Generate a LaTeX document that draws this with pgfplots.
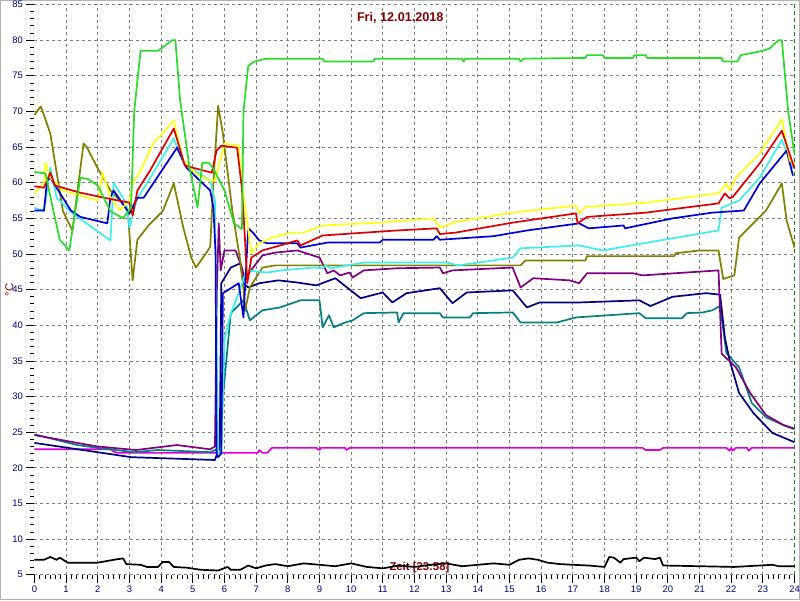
\documentclass[border=0pt]{standalone}
\usepackage{fontspec}
\setmainfont{Liberation Sans}
\usepackage{pgfplots}
\pgfplotsset{compat=1.18}

\definecolor{cgreen}{RGB}{40,220,40}
\definecolor{colive}{RGB}{128,128,0}
\definecolor{cyellow}{RGB}{255,255,20}
\definecolor{cred}{RGB}{220,0,0}
\definecolor{ccyan}{RGB}{60,238,238}
\definecolor{cblue}{RGB}{0,0,210}
\definecolor{cpurple}{RGB}{128,0,128}
\definecolor{cnavy}{RGB}{0,0,128}
\definecolor{cteal}{RGB}{0,128,128}
\definecolor{cmagenta}{RGB}{220,0,220}
\definecolor{darkred}{RGB}{128,0,0}
\definecolor{gridgray}{RGB}{128,128,128}

\begin{document}
\begin{tikzpicture}
\path[use as bounding box, draw=gray!60, line width=1bp] (0,0) rectangle (800bp,600bp);
\node[rotate=90, text=darkred, font=\fontsize{11.5}{12}\selectfont] at (9bp,310bp) {°C};
\begin{axis}[
    at={(34bp,25bp)}, anchor=south west,
    scale only axis, width=761bp, height=571bp,
    xmin=0, xmax=24, ymin=5, ymax=85,
    axis x line*=bottom, axis y line*=left,
    axis line style={draw=none},
    xtick={0,...,24}, ytick={5,10,...,85},
    minor x tick num=5, minor y tick num=4,
    tick align=outside,
    major tick length=8bp, minor tick length=4bp,
    tick style={black, line width=0.8bp},
    ymajorgrids,
    extra x ticks={1,...,23}, extra x tick labels={},
    extra x tick style={xmajorgrids=true, major tick length=0pt},
    grid style={gridgray, line width=0.8bp, dash pattern=on 3bp off 3bp},
    ticklabel style={text=cnavy, font=\fontsize{9.5}{10}\selectfont},
    /pgf/number format/assume math mode=true,
    clip=false,
    every axis plot/.append style={line width=1.7bp, mark=none, line join=round},
]
\node[anchor=west, text=darkred, font=\bfseries\fontsize{11.4}{12}\selectfont] at (axis cs:11.1,6.0) {Zeit [23:58]};
\node[text=darkred, font=\bfseries\fontsize{12.7}{14}\selectfont] at (axis cs:11.55,83.1) {Fri, 12.01.2018};
\draw[cgreen!60!black, line width=0.8bp, dash pattern=on 4bp off 3bp] (axis cs:24,5) -- (axis cs:24,85);

% magenta
\addplot[cmagenta] coordinates {(0,22.6) (2.4,22.6) (2.5,22.3) (2.6,22.1) (7.05,22.1) (7.1,22.5) (7.2,22.1) (7.35,22.1) (7.5,22.8) (8.9,22.8) (9.0,22.5) (9.05,22.8) (9.8,22.8) (9.85,22.5) (9.95,22.8) (19.2,22.8) (19.3,22.5) (19.75,22.5) (19.85,22.8) (21.85,22.8) (21.95,22.4) (22.0,22.8) (22.05,22.4) (22.15,22.8) (22.5,22.8) (22.55,22.4) (22.65,22.8) (24,22.8)};
% black
\addplot[black] coordinates {(0,7.1) (0.3,7.1) (0.5,7.5) (0.7,7.1) (0.8,7.4) (1.05,6.7) (2.0,6.7) (2.5,7.1) (2.8,7.3) (2.9,6.5) (3.35,6.4) (3.55,6.1) (3.9,6.1) (4.05,6.8) (4.25,6.8) (4.4,6.1) (4.8,6.0) (5.25,5.7) (5.8,5.6) (6.1,6.1) (6.2,5.7) (6.5,5.7) (6.75,6.3) (7.0,5.9) (7.3,6.3) (7.6,6.5) (8.0,6.2) (8.5,6.6) (9.0,6.4) (9.5,6.2) (10.0,6.6) (10.5,6.1) (11.0,5.9) (11.5,6.3) (12.0,6.1) (12.5,6.4) (13.0,6.6) (13.5,6.2) (14.0,6.4) (14.5,6.6) (15.0,6.4) (15.3,7.1) (15.6,7.3) (15.9,7.1) (16.2,6.7) (16.6,6.5) (17.0,6.4) (17.5,6.3) (18.0,6.1) (18.15,7.5) (18.3,7.4) (18.5,6.7) (18.6,7.2) (19.0,7.4) (19.1,6.9) (19.25,7.4) (19.6,7.2) (19.75,7.4) (19.85,6.3) (21.0,6.2) (22.1,6.1) (23.3,6.4) (23.5,6.2) (24,6.2)};
% teal
\addplot[cteal] coordinates {(0,24.7) (1.35,23.2) (2.0,22.8) (3.15,22.2) (3.9,22.5) (5.55,22.2) (5.7,22.5) (5.85,22.5) (5.95,30) (6.2,41.7) (6.6,43.5) (6.8,40.7) (7.2,42.1) (7.75,42.5) (8.4,43.5) (9.0,43.5) (9.1,39.7) (9.3,41.4) (9.45,39.7) (9.75,40.3) (10.05,40.7) (10.4,41.7) (11.45,41.8) (11.5,40.4) (11.65,41.7) (12.8,41.7) (12.9,41.1) (13.75,41.1) (13.85,41.7) (15.1,41.8) (15.35,40.4) (16.5,40.4) (17.1,41.1) (19.1,41.7) (19.3,41.0) (20.45,41.0) (20.6,41.7) (21.1,41.8) (21.4,42.1) (21.65,42.7) (21.85,36.1) (22.25,34.1) (22.65,29.1) (23.1,27.1) (23.65,26.0) (24,25.4)};
% navy
\addplot[cnavy] coordinates {(0,23.5) (3.05,21.5) (5.7,21.1) (5.85,23) (5.9,45.9) (6.2,48.1) (6.5,48.7) (6.6,45.9) (6.75,45.3) (7.1,45.9) (7.7,46.3) (8.3,46.0) (8.9,45.6) (9.5,46.6) (10.1,44.5) (10.3,43.8) (11.0,44.6) (11.3,43.2) (11.75,44.5) (12.8,45.2) (13.2,43.1) (13.65,44.6) (15.1,44.9) (15.55,42.5) (15.95,43.2) (17.2,43.2) (19.1,43.5) (19.45,42.7) (20.15,44.0) (21.2,44.5) (21.65,44.3) (21.8,38.3) (21.95,35.1) (22.25,30.5) (22.7,27.7) (23.3,24.9) (24,23.6)};
% purple
\addplot[cpurple] coordinates {(0,24.6) (1.35,23.5) (2.0,23.0) (3.2,22.5) (4.5,23.2) (5.55,22.6) (5.7,23.0) (5.76,45) (5.82,54.3) (5.88,47.7) (6.0,50.5) (6.35,50.5) (6.55,48.1) (6.65,46.3) (6.8,47.5) (7.2,49.8) (7.6,50.2) (8.3,50.5) (9.0,49.5) (9.25,47.3) (9.45,47.7) (9.65,47.0) (9.95,47.4) (10.05,46.7) (10.4,47.7) (11.45,48.0) (12.8,48.1) (12.9,47.3) (13.2,47.7) (15.1,48.1) (15.35,45.3) (15.75,46.6) (16.9,46.3) (17.2,45.9) (17.45,47.3) (18.9,47.3) (19.2,47.0) (21.6,47.7) (21.7,36.0) (22.15,34.1) (22.6,30.5) (23.1,27.4) (23.65,26.0) (24,25.5)};
% olive
\addplot[colive] coordinates {(0,69.5) (0.2,70.7) (0.3,69.5) (0.5,66.9) (0.9,56.0) (1.2,53.3) (1.55,65.5) (1.65,65.0) (2.0,62.0) (2.4,58.9) (2.7,57.5) (2.95,56.0) (3.1,46.3) (3.25,52.0) (3.6,54.0) (4.05,56.0) (4.4,59.9) (4.7,53.7) (4.95,49.5) (5.1,48.1) (5.4,50.0) (5.55,51.0) (5.65,60.0) (5.8,70.8) (5.95,66.9) (6.25,56.0) (6.5,49.0) (6.6,45.0) (6.65,42.0) (6.8,45.3) (7.2,48.1) (7.6,48.4) (15.35,48.4) (15.5,49.1) (17.4,49.1) (17.45,49.7) (20.2,49.7) (20.25,50.1) (21.0,50.5) (21.6,50.5) (21.75,46.5) (22.1,47.0) (22.25,52.3) (22.7,54.3) (23.1,56.1) (23.6,59.9) (23.75,54.7) (24,50.9)};
% cyan
\addplot[ccyan] coordinates {(0,56.5) (0.3,56.0) (0.5,62.1) (0.7,57.9) (1.2,55.7) (2.4,51.9) (2.5,60.0) (2.9,57.1) (3.0,53.7) (3.25,57.9) (3.55,59.9) (4.4,66.2) (4.7,62.8) (5.55,60.3) (5.7,57.5) (5.75,40) (5.8,22) (5.9,22) (6.0,38) (6.2,41.7) (6.4,43.9) (6.7,47.7) (7.35,47.4) (7.8,47.7) (8.8,48.1) (9.1,48.0) (9.2,48.4) (9.35,48.0) (10.4,48.8) (13.0,48.8) (13.4,48.4) (15.1,49.5) (15.35,50.8) (17.2,51.2) (17.95,50.5) (19.75,51.9) (21.6,53.3) (21.7,56.5) (22.25,57.5) (22.9,60.7) (23.6,66.0) (23.95,62.0)};
% blue
\addplot[cblue] coordinates {(0,56.1) (0.3,56.1) (0.4,60.3) (0.5,60.7) (1.15,56.1) (1.45,55.2) (2.3,54.3) (2.4,58.0) (2.5,58.9) (3.0,55.7) (3.25,57.9) (3.45,57.9) (4.5,64.9) (4.8,62.1) (5.55,58.9) (5.65,56.5) (5.72,50) (5.75,22) (5.8,21.5) (5.9,22) (5.95,44.5) (6.45,45.9) (6.6,41.1) (6.75,53.6) (6.9,53.0) (7.1,51.9) (7.35,51.5) (8.3,51.5) (8.4,50.9) (9.25,51.6) (10.9,51.6) (11.0,52.0) (12.6,52.0) (12.7,52.5) (12.8,52.0) (14.5,52.5) (15.55,53.3) (17.2,54.3) (17.5,53.6) (18.6,54.0) (18.65,53.6) (19.4,54.3) (20.15,55.0) (21.4,55.8) (22.4,56.1) (22.9,59.9) (23.75,64.5) (23.95,61.0)};
% yellow
\addplot[cyellow] coordinates {(0,58.5) (0.3,60.0) (0.35,62.8) (0.5,60.7) (0.9,58.9) (2.0,57.5) (2.15,61.4) (2.4,57.9) (2.7,56.1) (3.0,57.5) (3.1,59.9) (3.35,61.7) (3.75,65.5) (4.4,68.7) (4.7,63.1) (5.1,61.3) (5.55,60.3) (5.7,60.3) (6.0,65.5) (6.45,65.2) (6.55,59.9) (6.85,50.1) (7.1,51.5) (7.5,52.3) (8.1,53.0) (8.5,53.0) (9.1,54.0) (10.9,54.4) (12.6,55.0) (12.8,53.7) (13.3,54.5) (15.1,55.8) (17.1,56.8) (17.2,55.7) (17.4,56.6) (19.3,57.2) (21.6,58.5) (21.85,59.9) (21.95,58.9) (22.15,60.7) (22.9,64.1) (23.6,68.9) (23.85,63.1) (24,62.7)};
% red
\addplot[cred] coordinates {(0,59.5) (0.3,59.3) (0.5,61.4) (0.65,59.6) (1.45,58.6) (2.3,57.8) (3.0,57.2) (3.1,55.4) (3.25,58.9) (3.65,61.7) (4.4,67.6) (4.75,62.4) (5.6,61.4) (5.75,64.5) (5.9,65.2) (6.4,64.9) (6.55,59.2) (6.65,51.9) (6.72,45.9) (6.85,49.5) (7.2,50.5) (7.6,51.0) (8.3,51.9) (8.4,51.2) (9.1,52.6) (10.1,52.9) (11.45,53.3) (12.7,53.6) (12.8,52.8) (13.3,53.0) (15.1,54.4) (17.1,55.7) (17.15,54.3) (17.45,55.2) (19.3,55.8) (21.6,57.1) (21.8,58.5) (21.95,57.8) (22.05,58.0) (22.9,62.7) (23.6,67.3) (24,62.0)};
% green
\addplot[cgreen] coordinates {(0,61.5) (0.35,61.3) (0.6,56.0) (0.8,52.0) (1.1,50.5) (1.45,60.7) (1.7,60.5) (2.0,59.6) (2.4,56.0) (2.8,55.0) (3.05,56.5) (3.15,70.0) (3.35,78.5) (3.9,78.5) (4.35,80.0) (4.45,80.0) (4.6,71.5) (4.9,62.0) (5.15,56.5) (5.3,62.8) (5.5,62.8) (5.65,62.0) (6.0,58.9) (6.3,54.3) (6.55,53.5) (6.6,70.0) (6.75,76.4) (6.95,77.0) (7.3,77.4) (9.1,77.4) (9.15,77.0) (10.7,77.0) (10.75,77.4) (13.5,77.4) (13.55,77.0) (13.6,77.4) (15.3,77.4) (15.35,77.0) (15.45,77.4) (17.4,77.5) (17.45,77.9) (17.95,77.9) (18.0,77.5) (18.9,77.5) (18.95,77.9) (19.3,77.9) (19.35,77.5) (21.7,77.5) (21.75,77.0) (22.2,77.0) (22.3,77.9) (22.9,78.4) (23.2,78.8) (23.5,80.0) (23.6,80.0) (23.8,70.0) (24,64.0)};
\end{axis}
\end{tikzpicture}
\end{document}
